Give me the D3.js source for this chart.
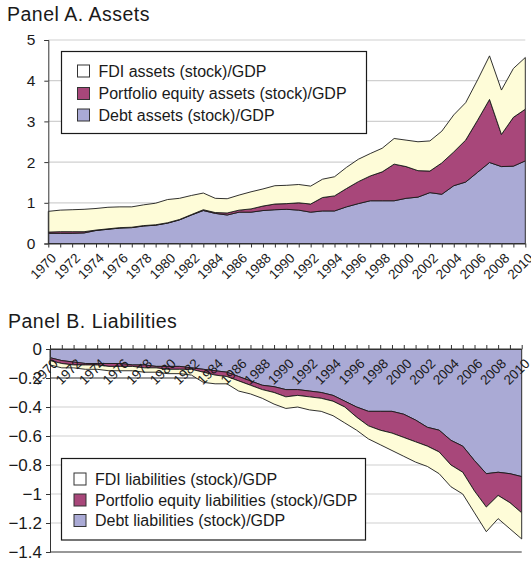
<!DOCTYPE html>
<html>
<head>
<meta charset="utf-8">
<script src="https://cdn.jsdelivr.net/npm/d3@7"></script>
<style>
  body { margin: 0; background: #fff; }
  svg text { font-family: "Liberation Sans", Arial, Helvetica, sans-serif; fill: #1a1a1a; }
</style>
</head>
<body>
<div id="chart"></div>
<script>
// x categories
const years = d3.range(1970, 2011);

// Panel A: assets (stock) / GDP, one array per layer (not cumulative)
const debtAssets = [0.25,0.25,0.25,0.26,0.32,0.35,0.38,0.39,0.43,0.45,0.50,0.58,0.70,0.81,0.74,0.70,0.77,0.77,0.81,0.83,
  0.84,0.82,0.77,0.80,0.80,0.90,0.98,1.05,1.05,1.05,1.11,1.14,1.25,1.21,1.42,1.51,1.75,1.99,1.89,1.90,2.03];
const portfolioAssets = [0.03,0.04,0.04,0.03,0.01,0.01,0.01,0.01,0.01,0.01,0.01,0.01,0.01,0.02,0.02,0.05,0.05,0.08,0.11,0.14,
  0.14,0.18,0.20,0.33,0.37,0.45,0.54,0.61,0.71,0.90,0.78,0.65,0.53,0.77,0.83,1.03,1.28,1.55,0.79,1.20,1.27];
const fdiAssets = [0.51,0.53,0.54,0.55,0.53,0.53,0.51,0.50,0.51,0.53,0.57,0.52,0.47,0.41,0.35,0.35,0.37,0.42,0.42,0.45,
  0.45,0.45,0.44,0.45,0.47,0.52,0.55,0.55,0.58,0.63,0.65,0.71,0.74,0.78,0.91,0.92,0.99,1.07,1.09,1.20,1.27];

// Panel B: liabilities (stock) / GDP, plotted as negatives
const debtLiab = [-0.06,-0.08,-0.09,-0.10,-0.10,-0.10,-0.10,-0.11,-0.11,-0.12,-0.12,-0.12,-0.13,-0.14,-0.15,-0.16,-0.19,-0.22,-0.25,-0.26,
  -0.28,-0.28,-0.29,-0.30,-0.32,-0.36,-0.40,-0.43,-0.43,-0.43,-0.45,-0.49,-0.54,-0.56,-0.63,-0.67,-0.77,-0.86,-0.85,-0.86,-0.88];
const portfolioLiab = [-0.02,-0.02,-0.02,-0.01,-0.01,-0.02,-0.02,-0.01,-0.02,-0.01,-0.02,-0.02,-0.01,-0.02,-0.03,-0.03,-0.03,-0.03,-0.03,-0.04,
  -0.05,-0.04,-0.04,-0.04,-0.04,-0.04,-0.07,-0.10,-0.13,-0.15,-0.16,-0.15,-0.13,-0.15,-0.17,-0.18,-0.21,-0.23,-0.16,-0.20,-0.25];
const fdiLiab = [-0.03,-0.03,-0.02,-0.03,-0.03,-0.03,-0.03,-0.03,-0.03,-0.03,-0.03,-0.03,-0.04,-0.07,-0.06,-0.05,-0.07,-0.06,-0.06,-0.08,
  -0.08,-0.08,-0.09,-0.09,-0.10,-0.11,-0.09,-0.09,-0.10,-0.12,-0.13,-0.14,-0.14,-0.15,-0.15,-0.15,-0.15,-0.17,-0.16,-0.18,-0.18];

// tick labels
const assetTicks = [0, 1, 2, 3, 4, 5];
const liabTicks = [0, -0.2, -0.4, -0.6, -0.8, -1, -1.2, -1.4];

const assetLabels = ["FDI assets (stock)/GDP", "Portfolio equity assets (stock)/GDP", "Debt assets (stock)/GDP"];
const liabLabels = ["FDI liabilities (stock)/GDP", "Portfolio equity liabilities (stock)/GDP", "Debt liabilities (stock)/GDP"];

const keys = ["debt", "portfolio", "fdi"];
const colors = { debt: "#aaaad5", portfolio: "#a8477a", fdi: "#fefcd8" };

const W = 531, H = 562;
const svg = d3.select("#chart").append("svg").attr("width", W).attr("height", H);

function buildRows(debt, portfolio, fdi) {
  return years.map((y, i) => ({ year: y, debt: debt[i], portfolio: portfolio[i], fdi: fdi[i] }));
}

function drawPanel(cfg) {
  const g = svg.append("g");
  const x = d3.scaleLinear().domain([1970, 2010]).range(cfg.xRange);
  const y = d3.scaleLinear().domain(cfg.yDomain).range(cfg.yRange);

  // title
  g.append("text")
    .attr("x", cfg.titlePos[0]).attr("y", cfg.titlePos[1])
    .style("font-size", "19.5px")
    .style("letter-spacing", "0.5px")
    .text(cfg.title);

  // light grid lines (under the areas)
  g.selectAll(".grid")
    .data(cfg.grid)
    .enter().append("line")
    .attr("x1", x(1970)).attr("x2", x(2010))
    .attr("y1", d => y(d)).attr("y2", d => y(d))
    .attr("stroke", d => d === cfg.darkGrid ? "#333" : "#d0d0d0")
    .attr("stroke-width", 1.2);

  // stacked areas
  const stack = d3.stack().keys(keys).offset(d3.stackOffsetDiverging);
  const layers = stack(cfg.rows);
  const area = d3.area()
    .x(d => x(d.data.year))
    .y0(d => y(d[0]))
    .y1(d => y(d[1]));

  g.selectAll(".layer")
    .data(layers)
    .enter().append("path")
    .attr("d", area)
    .attr("fill", d => colors[d.key])
    .attr("stroke", "#1a1a1a")
    .attr("stroke-width", 0.9)
    .attr("stroke-linejoin", "round");

  // y axis
  const yAxis = g.append("g")
    .attr("transform", `translate(${x(1970)},0)`)
    .call(d3.axisLeft(y).tickValues(cfg.yTicks).tickFormat(d3.format("~g"))
      .tickSize(4).tickPadding(cfg.yPad));
  yAxis.select(".domain").attr("stroke", "#333");
  yAxis.selectAll("line").attr("stroke", "#333");
  yAxis.selectAll("text").style("font-size", cfg.yFont).attr("fill", "#1a1a1a");

  // x axis - a tick every year, a label every other year, rotated
  const xAxis = g.append("g")
    .attr("transform", `translate(0,${y(0)})`)
    .call(d3.axisBottom(x).tickValues(years)
      .tickFormat(d => d % 2 === 0 ? d : "")
      .tickSizeInner(cfg.xTickSize).tickSizeOuter(0));
  xAxis.select(".domain").attr("stroke", "#333");
  xAxis.selectAll("line").attr("stroke", "#333");
  xAxis.selectAll("text")
    .attr("x", 0).attr("y", 0).attr("dy", "0.35em")
    .attr("transform", "translate(5,12) rotate(-45)")
    .style("text-anchor", "end")
    .style("font-size", "13.5px")
    .attr("fill", "#1a1a1a");

  // closing bottom line for panel B
  if (cfg.bottomLine !== undefined) {
    g.append("line")
      .attr("x1", x(1970)).attr("x2", x(2010))
      .attr("y1", y(cfg.bottomLine)).attr("y2", y(cfg.bottomLine))
      .attr("stroke", "#333").attr("stroke-width", 1.2);
  }

  // legend box
  const lg = g.append("g").attr("transform", `translate(${cfg.legend.x},${cfg.legend.y})`);
  lg.append("rect")
    .attr("width", cfg.legend.w).attr("height", cfg.legend.h)
    .attr("fill", "#fff").attr("stroke", "#1a1a1a").attr("stroke-width", 1.2);

  const legendKeys = ["fdi", "portfolio", "debt"];
  const row = lg.selectAll(".lrow")
    .data(cfg.labels)
    .enter().append("g")
    .attr("transform", (d, i) => `translate(${cfg.legend.sx},${cfg.legend.rows[i]})`);
  row.append("rect")
    .attr("x", 0).attr("y", -6).attr("width", 12).attr("height", 12)
    .attr("fill", (d, i) => legendKeys[i] === "fdi" ? "#fff" : colors[legendKeys[i]])
    .attr("stroke", "#333").attr("stroke-width", 1);
  row.append("text")
    .attr("x", cfg.legend.tx).attr("dy", "0.36em")
    .style("font-size", "16px")
    .text(d => d);
}

// Panel A
drawPanel({
  title: "Panel A. Assets",
  titlePos: [7, 20.5],
  rows: buildRows(debtAssets, portfolioAssets, fdiAssets),
  xRange: [48.3, 525.3],
  yDomain: [0, 5],
  yRange: [243.5, 40],
  yTicks: assetTicks,
  grid: assetTicks.filter(d => d !== 0),
  yFont: "15.5px",
  yPad: 9,
  xTickSize: 4,
  labels: assetLabels,
  legend: { x: 61.5, y: 51.5, w: 305, h: 82, sx: 16, tx: 21, rows: [19.5, 42, 63.5] }
});

// Panel B
drawPanel({
  title: "Panel B. Liabilities",
  titlePos: [8, 328],
  rows: buildRows(debtLiab, portfolioLiab, fdiLiab),
  xRange: [50, 521.7],
  yDomain: [-1.4, 0],
  yRange: [552, 349],
  yTicks: liabTicks,
  grid: liabTicks.filter(d => d !== 0 && d !== -1.4),
  darkGrid: -0.2,
  bottomLine: -1.4,
  yFont: "17px",
  yPad: 4,
  xTickSize: -4,
  labels: liabLabels,
  legend: { x: 61.5, y: 458.5, w: 304, h: 81.5, sx: 12.5, tx: 21, rows: [20.5, 41.5, 62] }
});
</script>
</body>
</html>
